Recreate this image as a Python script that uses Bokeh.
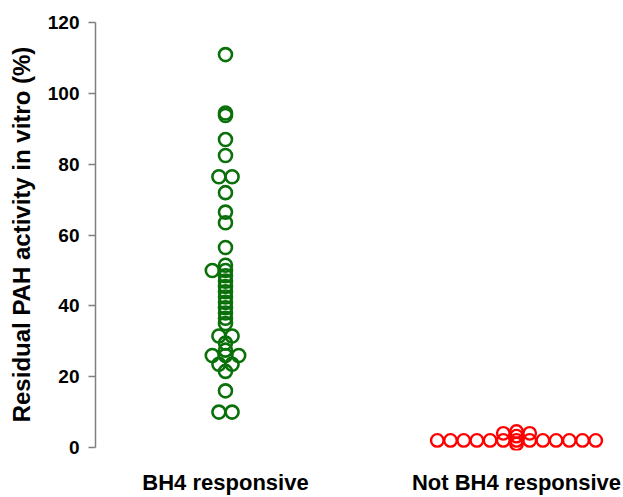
from bokeh.plotting import figure
from bokeh.models import Range1d, FixedTicker, ColumnDataSource
from bokeh.embed import file_html
from bokeh.resources import INLINE

categories = ["BH4 responsive", "Not BH4 responsive"]

# BH4 responsive: residual activity (%) and horizontal swarm slot
green_values = [111, 94.5, 93.8, 87, 82.5, 76.5, 76.5, 72, 66.5, 63.5, 56.5,
                51.5, 50, 50, 48.5, 47, 45.5, 44, 42.5, 41, 39.5, 38, 36.5, 35,
                31.5, 31.5, 29.5, 27.5, 26, 26, 26, 23.5, 23.5, 21.5, 16, 10, 10]
green_slots = [0, 0, 0, 0, 0, -1, 1, 0, 0, 0, 0,
               0, -2, 0, 0, 0, 0, 0, 0, 0, 0, 0, 0, 0,
               -1, 1, 0, 0, -2, 0, 2, -1, 1, 0, 0, -1, 1]

# Not BH4 responsive
red_values = [2] * 13 + [4, 4, 4.5, 3.2, 1]
red_slots = [-12, -10, -8, -6, -4, -2, 0, 2, 4, 6, 8, 10, 12] + [-2, 2, 0, 0, 0]

y_ticks = [0, 20, 40, 60, 80, 100, 120]

step = 6.6 / 291.0

p = figure(width=623, height=497, output_backend="svg", toolbar_location=None,
           x_range=Range1d(0.5533, 2.3677), y_range=Range1d(-0.85, 121.2),
           min_border_left=95, min_border_right=0, min_border_top=18,
           min_border_bottom=47)
p.outline_line_color = None
p.xgrid.visible = False
p.ygrid.visible = False
p.background_fill_color = "white"
p.border_fill_color = "white"

gsrc = ColumnDataSource(dict(x=[1 + s * step for s in green_slots], y=green_values))
rsrc = ColumnDataSource(dict(x=[2 + s * step for s in red_slots], y=red_values))

p.scatter("x", "y", source=gsrc, size=13, fill_color=None,
          line_color="#0a700a", line_width=2.6)
p.scatter("x", "y", source=rsrc, size=12.5, fill_color=None,
          line_color="#ff0000", line_width=2.4)

font = "Liberation Sans"

p.yaxis.ticker = FixedTicker(ticks=y_ticks)
p.yaxis.bounds = (0, 120)
p.yaxis.axis_line_color = "#808080"
p.yaxis.axis_line_width = 1.5
p.yaxis.major_tick_line_color = "#808080"
p.yaxis.major_tick_line_width = 1.5
p.yaxis.major_tick_out = 7
p.yaxis.major_tick_in = 0
p.yaxis.minor_tick_line_color = None
p.yaxis.major_label_text_font = font
p.yaxis.major_label_text_font_style = "bold"
p.yaxis.major_label_text_font_size = "19px"
p.yaxis.major_label_text_color = "black"
p.yaxis.major_label_standoff = 9
p.yaxis.axis_label = "Residual PAH activity in vitro (%)"
p.yaxis.axis_label_text_font = font
p.yaxis.axis_label_text_font_style = "bold"
p.yaxis.axis_label_text_font_size = "24px"
p.yaxis.axis_label_text_color = "black"
p.yaxis.axis_label_standoff = 10

p.xaxis.ticker = FixedTicker(ticks=[1, 2])
p.xaxis.major_label_overrides = {1: categories[0], 2: categories[1]}
p.xaxis.axis_line_color = None
p.xaxis.major_tick_line_color = None
p.xaxis.minor_tick_line_color = None
p.xaxis.major_tick_out = 0
p.xaxis.major_tick_in = 0
p.xaxis.major_label_text_font = font
p.xaxis.major_label_text_font_style = "bold"
p.xaxis.major_label_text_font_size = "22px"
p.xaxis.major_label_text_color = "black"
p.xaxis.major_label_standoff = 19

open("out.html", "w").write(file_html(p, INLINE))
